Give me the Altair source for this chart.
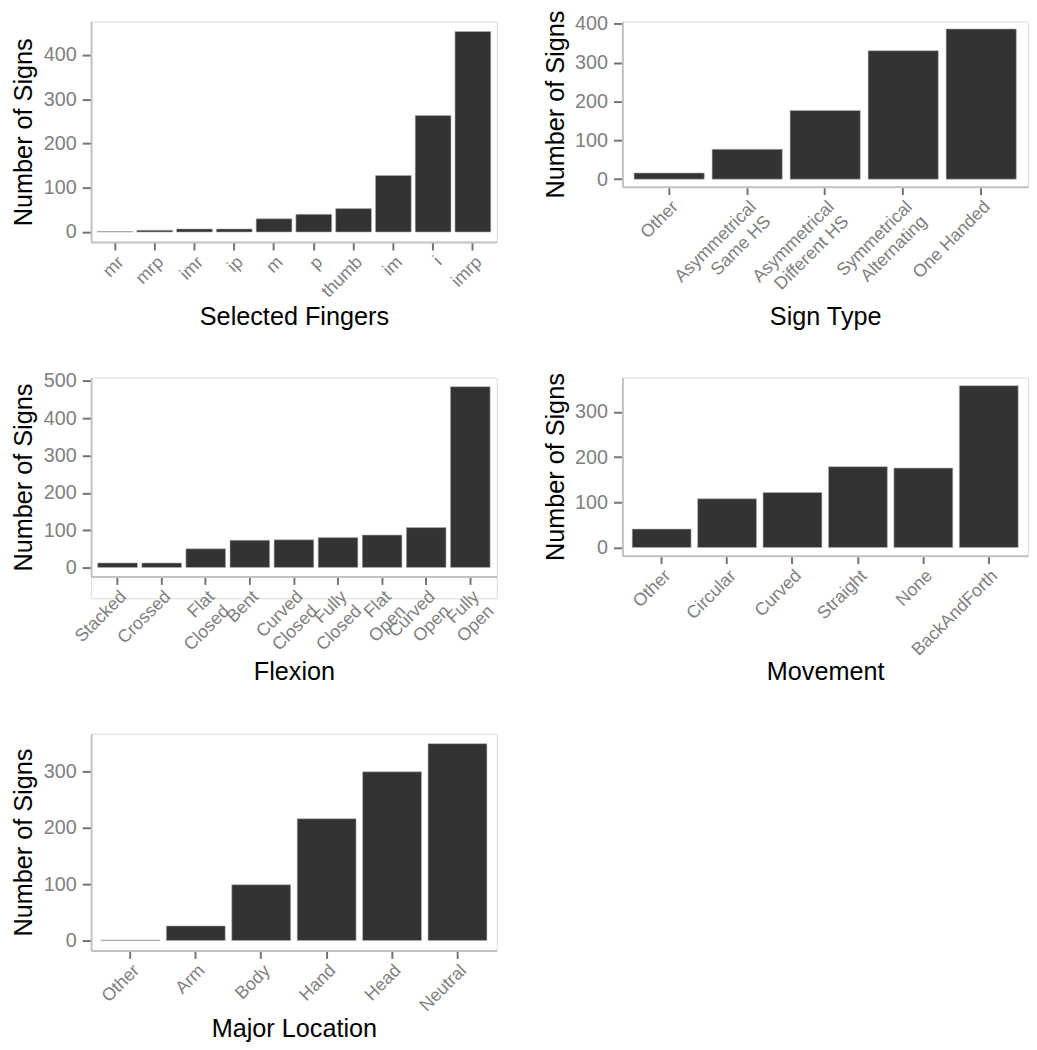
import altair as alt
import pandas as pd

# ---- data ----
finger_cats = ["mr", "mrp", "imr", "ip", "m", "p", "thumb", "im", "i", "imrp"]
finger_vals = [1, 4, 7, 7, 30, 40, 53, 128, 263, 453]

signtype_cats = ["Other", "Asymmetrical\nSame HS", "Asymmetrical\nDifferent HS",
                 "Symmetrical\nAlternating", "One Handed"]
signtype_vals = [16, 77, 177, 331, 387]

flexion_cats = ["Stacked", "Crossed", "Flat\nClosed", "Bent", "Curved\nClosed",
                "Fully\nClosed", "Flat\nOpen", "Curved\nOpen", "Fully\nOpen"]
flexion_vals = [12, 12, 50, 73, 74, 80, 87, 107, 485]

movement_cats = ["Other", "Circular", "Curved", "Straight", "None", "BackAndForth"]
movement_vals = [41, 108, 122, 179, 176, 358]

location_cats = ["Other", "Arm", "Body", "Hand", "Head", "Neutral"]
location_vals = [1, 26, 99, 216, 299, 349]

FONT = "Liberation Sans"
W = 410
ROW_H = 223


def panel(cats, vals, xtitle, yticks, plot_h, xtitle_y, ytitle_x=-60, group_h=None):
    group_h = group_h or plot_h
    df = pd.DataFrame({"cat": cats, "n": vals})
    ymax = max(vals)
    dom = [-0.05 * ymax, 1.05 * ymax]
    if group_h != plot_h:
        yscale = alt.Scale(domain=dom, nice=False, zero=False, range=[plot_h, 0])
    else:
        yscale = alt.Scale(domain=dom, nice=False, zero=False)
    xaxis = alt.Axis(
        title=xtitle, labelAngle=-45, labelAlign="right", labelBaseline="top",
        labelExpr="split(datum.label, '\\n')", labelFontSize=18, labelColor="#7f7f7f",
        labelPadding=3, labelLineHeight=21, labelFont=FONT, labelOverlap=False,
        labelBound=False, labelFlush=False,
        titleFont=FONT, titleFontSize=25.5, titleColor="black", titleFontWeight="normal",
        titleY=xtitle_y, titleBaseline="alphabetic",
        domainColor="#c2c2c2", domainWidth=2, tickColor="#737373", tickWidth=2,
        tickSize=8, grid=False, offset=plot_h - group_h,
    )
    yaxis = alt.Axis(
        title="Number of Signs", values=yticks, labelFontSize=20, labelColor="#7f7f7f",
        labelFont=FONT, labelPadding=6, tickSize=9, tickColor="#737373", tickWidth=2,
        domainColor="#c2c2c2", domainWidth=2, grid=False,
        titleFont=FONT, titleFontSize=25.5, titleColor="black", titleFontWeight="normal",
        titleX=ytitle_x, titleBaseline="alphabetic",
    )
    return alt.Chart(df).mark_bar(color="#333333", stroke="#b5b5b5", strokeWidth=0.6).encode(
        x=alt.X("cat:N", sort=cats, axis=xaxis,
                scale=alt.Scale(paddingInner=0.1, paddingOuter=0.15)),
        y=alt.Y("n:Q", scale=yscale, axis=yaxis),
        y2=alt.datum(0),
    ).properties(width=W, height=group_h)


p1 = panel(finger_cats, finger_vals, "Selected Fingers", [0, 100, 200, 300, 400], 223, 83.5)
p2 = panel(signtype_cats, signtype_vals, "Sign Type", [0, 100, 200, 300, 400], 167, 139)
p3 = panel(flexion_cats, flexion_vals, "Flexion", [0, 100, 200, 300, 400, 500], 201, 104,
           group_h=ROW_H)
p4 = panel(movement_cats, movement_vals, "Movement", [0, 100, 200, 300], 180, 125)
p5 = panel(location_cats, location_vals, "Major Location", [0, 100, 200, 300], 219, 87)

chart = alt.concat(
    p1, p2, p3, p4, p5, columns=2, bounds="flush",
    spacing={"row": 360 - ROW_H, "column": 127},
).properties(
    padding={"left": 3, "top": -4, "right": 0, "bottom": 0}
).configure_view(stroke=None).configure(font=FONT, background="white")

chart.save("out.html", embed_options={"renderer": "svg", "actions": False})
